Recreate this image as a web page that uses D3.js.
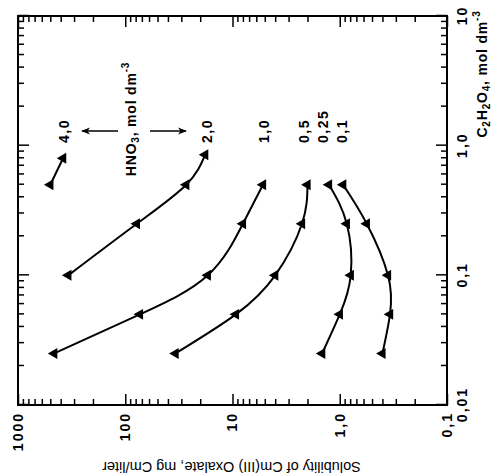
<!DOCTYPE html>
<meta charset="utf-8">
<style>
body { margin: 0; background: #fff; }
text { font-family: "Liberation Sans", Arial, sans-serif; fill: #000; }
.tick text { font-weight: bold; font-size: 14px; letter-spacing: 2px; }
.domain { display: none; }
.tick line { stroke: #000; stroke-width: 1.5; }
.frame { fill: none; stroke: #000; stroke-width: 2; }
.curve { fill: none; stroke: #000; stroke-width: 2; }
.lbl { font-weight: bold; font-size: 14px; letter-spacing: 1.5px; }
.title { font-weight: bold; font-size: 14px; letter-spacing: 0.8px; }
</style>
<svg width="494" height="476"></svg>
<script src="https://d3js.org/d3.v7.min.js"></script>
<script>

// HNO3 concentration of each curve, mol dm-3
var hno3 = ["4,0", "2,0", "1,0", "0,5", "0,25", "0,1"];

// C2H2O4 concentration, mol dm-3
var oxalic = [0.025, 0.05, 0.1, 0.25, 0.5];
var oxalic40 = [0.5, 0.8];
var oxalic20 = [0.1, 0.25, 0.5, 0.85];

// solubility of Cm(III) oxalate, mg Cm/liter
var sol40 = [500, 380];
var sol20 = [340, 78, 27, 18];
var sol10 = [460, 73, 17, 8.0, 5.2];
var sol05 = [34, 9.3, 4.0, 2.25, 2.0];
var sol025 = [1.46, 1.0, 0.79, 0.86, 1.26];
var sol01 = [0.40, 0.34, 0.355, 0.56, 0.93];

var xTicks = [0.01, 0.1, 1, 10], xTickLabels = ["0,01", "0,1", "1,0", "10"];
var yTicks = [0.1, 1, 10, 100, 1000], yTickLabels = ["0,1", "1,0", "10", "100", "1000"];

var series = [
  [oxalic40, sol40], [oxalic20, sol20], [oxalic, sol10],
  [oxalic, sol05], [oxalic, sol025], [oxalic, sol01]
].map(function(s, i) {
  return { name: hno3[i], pts: s[0].map(function(c, j) { return [c, s[1][j]]; }) };
});

var svg = d3.select("svg");
var width = 389, height = 429;

// the figure is printed turned a quarter turn, so the whole chart is drawn rotated
var g = svg.append("g").attr("transform", "translate(18,405) rotate(-90)");

var x = d3.scaleLog().domain([0.01, 10]).range([0, width]);
var y = d3.scaleLog().domain([0.1, 1000]).range([height, 0]);

function minor(s) {
  return s.ticks().filter(function(v) {
    var l = Math.log10(v); return Math.abs(l - Math.round(l)) > 1e-6;
  });
}
function fmt(vals, labels) { return function(d) { return labels[vals.indexOf(d)]; }; }

// bottom (C2H2O4)
g.append("g").attr("transform", "translate(0," + height + ")")
  .call(d3.axisBottom(x).tickValues(minor(x)).tickSize(-6).tickFormat(""));
g.append("g").attr("transform", "translate(0," + height + ")")
  .call(d3.axisBottom(x).tickValues(xTicks).tickSize(-11).tickPadding(10).tickFormat(fmt(xTicks, xTickLabels)));
// top
g.append("g").call(d3.axisTop(x).tickValues(minor(x)).tickSize(-6).tickFormat(""));
g.append("g").call(d3.axisTop(x).tickValues(xTicks).tickSize(-11).tickFormat(""));
// left (solubility)
g.append("g").call(d3.axisLeft(y).tickValues(minor(y)).tickSize(-6).tickFormat(""));
g.append("g").call(d3.axisLeft(y).tickValues(yTicks).tickSize(-11).tickPadding(7).tickFormat(fmt(yTicks, yTickLabels)));
// right
g.append("g").attr("transform", "translate(" + width + ",0)")
  .call(d3.axisRight(y).tickValues(minor(y)).tickSize(-6).tickFormat(""));
g.append("g").attr("transform", "translate(" + width + ",0)")
  .call(d3.axisRight(y).tickValues(yTicks).tickSize(-11).tickFormat(""));

g.append("rect").attr("class", "frame").attr("width", width).attr("height", height);

var line = d3.line()
  .x(function(d) { return x(d[0]); })
  .y(function(d) { return y(d[1]); })
  .curve(d3.curveNatural);

g.selectAll(".curve").data(series).enter().append("path")
  .attr("class", "curve")
  .attr("d", function(d) { return line(d.pts); });

var tri = d3.symbol().type(d3.symbolTriangle).size(52);
g.selectAll(".pts").data(series).enter().append("g")
  .selectAll("path").data(function(d) { return d.pts; }).enter().append("path")
  .attr("d", tri)
  .attr("transform", function(d) { return "translate(" + x(d[0]) + "," + y(d[1]) + ")"; });

// HNO3 values written above each curve
var nudge = [1, 2, 1, -3, -6, -1];
g.selectAll(".hno3").data(series).enter().append("text")
  .attr("class", "lbl")
  .attr("x", x(1.05))
  .attr("y", function(d, i) { return y(d.pts[d.pts.length - 1][1]) + nudge[i]; })
  .attr("dominant-baseline", "central")
  .text(function(d) { return d.name; });

// HNO3 legend with arrows
var defs = svg.append("defs");
defs.append("marker").attr("id", "arr")
  .attr("viewBox", "0 0 10 10").attr("refX", 9).attr("refY", 5)
  .attr("markerWidth", 7).attr("markerHeight", 7).attr("orient", "auto")
  .append("path").attr("d", "M0,1L10,5L0,9L3,5Z");

var leg = g.append("text").attr("class", "title")
  .attr("x", 286).attr("y", 113)
  .attr("text-anchor", "middle").attr("dominant-baseline", "central");
leg.append("tspan").text("HNO");
leg.append("tspan").attr("dy", 4).attr("font-size", 10).text("3");
leg.append("tspan").attr("dy", -4).text(", mol dm");
leg.append("tspan").attr("dy", -6).attr("font-size", 10).text("-3");

g.append("line").attr("x1", 274).attr("x2", 274).attr("y1", 100).attr("y2", 64)
  .attr("stroke", "#000").attr("stroke-width", 1.3).attr("marker-end", "url(#arr)");
g.append("line").attr("x1", 274).attr("x2", 274).attr("y1", 132).attr("y2", 168)
  .attr("stroke", "#000").attr("stroke-width", 1.3).attr("marker-end", "url(#arr)");

// axis titles
var xt = g.append("text").attr("class", "title")
  .attr("x", 331).attr("y", 464)
  .attr("text-anchor", "middle").attr("dominant-baseline", "central");
xt.append("tspan").text("C");
xt.append("tspan").attr("dy", 4).attr("font-size", 10).text("2");
xt.append("tspan").attr("dy", -4).text("H");
xt.append("tspan").attr("dy", 4).attr("font-size", 10).text("2");
xt.append("tspan").attr("dy", -4).text("O");
xt.append("tspan").attr("dy", 4).attr("font-size", 10).text("4");
xt.append("tspan").attr("dy", -4).text(", mol dm");
xt.append("tspan").attr("dy", -6).attr("font-size", 10).text("-3");

g.append("text")
  .attr("transform", "translate(-62," + (height / 2 - 1) + ") rotate(-90)")
  .attr("text-anchor", "middle").attr("dominant-baseline", "central")
  .attr("font-size", 14.5)
  .text("Solubility of Cm(III) Oxalate, mg Cm/liter");

</script>
